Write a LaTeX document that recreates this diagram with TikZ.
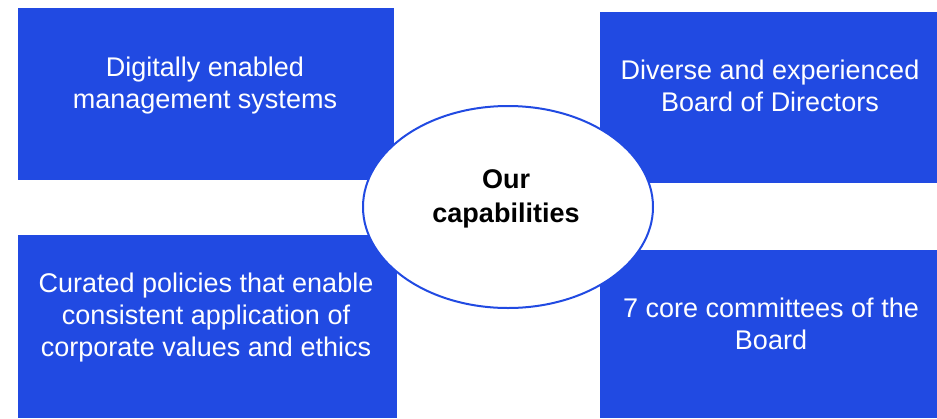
\documentclass[tikz,border=0pt]{standalone}
\usepackage{fontspec}
\setmainfont{Liberation Sans}
\usetikzlibrary{shapes.geometric}
\definecolor{capblue}{RGB}{33,74,226}
\begin{document}
\begin{tikzpicture}[x=1pt,y=-1pt,
  capbox/.style={fill=capblue, draw=none, inner sep=0pt, anchor=north west},
  captext/.style={text=white, align=center, inner sep=0pt, font=\fontsize{27}{32}\selectfont},
  hub/.style={ellipse, draw=capblue, line width=2pt, fill=white, minimum width=290pt, minimum height=202pt, inner sep=0pt},
  hubtext/.style={align=center, inner sep=0pt, font=\bfseries\fontsize{27}{34}\selectfont}]
\useasboundingbox (0,0) rectangle (937,418);
% boxes
\node[capbox, minimum width=376pt, minimum height=172pt] (tlbox) at (17.5,8) {};
\node[capbox, minimum width=337pt, minimum height=171pt] (trbox) at (600,12) {};
\node[capbox, minimum width=379.5pt, minimum height=183pt] (blbox) at (17.5,235) {};
\node[capbox, minimum width=337pt, minimum height=168pt] (brbox) at (600,250) {};
% box texts
\node[captext] (tltext) at (205,85.6) {\strut Digitally enabled\\\strut management systems};
\node[captext] (trtext) at (770,88.6) {\strut Diverse and experienced\\\strut Board of Directors};
\node[captext] (bltext) at (206,317.6) {\strut Curated policies that enable\\\strut consistent application of\\\strut corporate values and ethics};
\node[captext] (brtext) at (771,326.6) {\strut 7 core committees of the\\\strut Board};
% hub
\node[hub] (hub) at (508,207) {};
\node[hubtext] (hubtext) at (506,198.2) {\strut Our\\\strut capabilities};
\end{tikzpicture}
\end{document}
